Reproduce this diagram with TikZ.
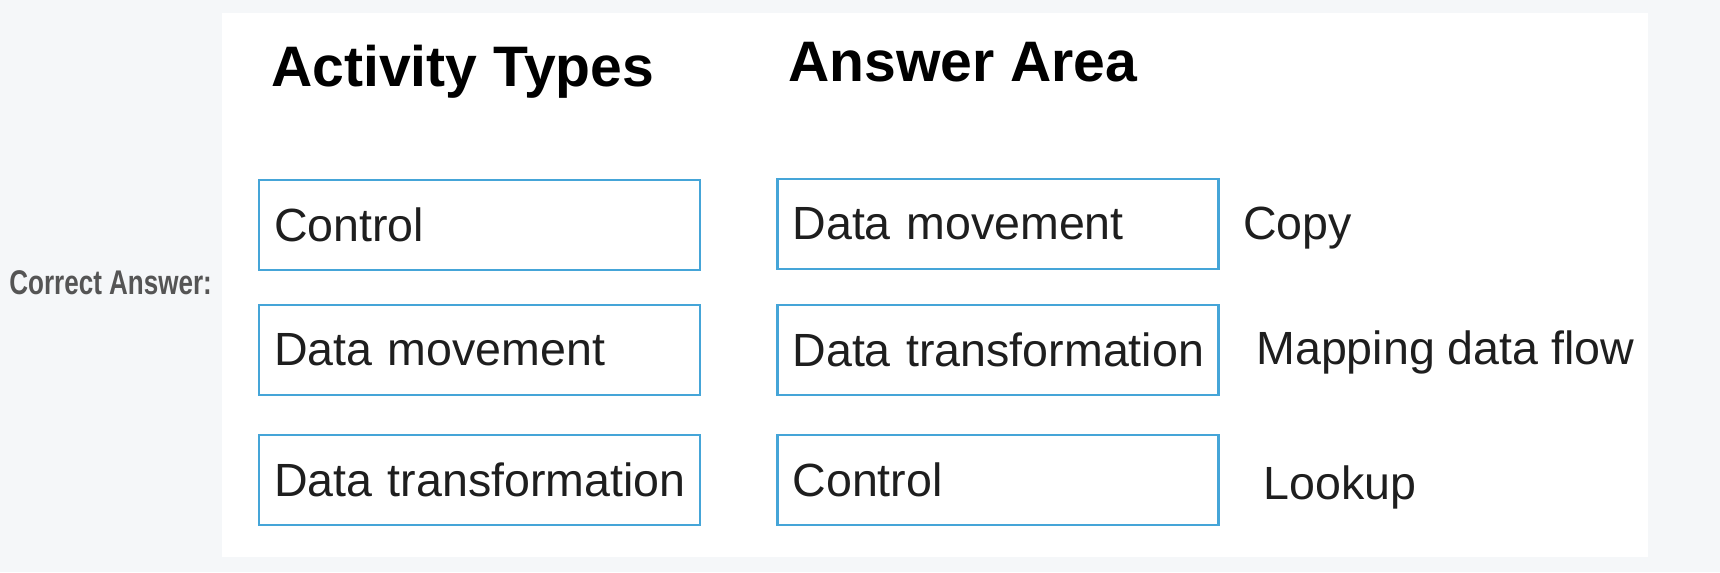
\documentclass[tikz,border=0pt]{standalone}
\usepackage{fontspec}
\setmainfont{Liberation Sans}
\usepackage{graphicx}
\definecolor{pagegray}{HTML}{F5F7F9}
\definecolor{boxblue}{HTML}{45A5D8}
\definecolor{inkgray}{HTML}{1E1E1E}
\definecolor{labelgray}{HTML}{555555}
\tikzset{
  heading/.style={anchor=base west, inner sep=0pt, font=\bfseries\fontsize{32.5}{36}\selectfont},
  choice/.style={draw=boxblue, line width=1.6pt, minimum height=1.8cm, text width=8.22cm,
    inner xsep=0.3cm, align=left, text=inkgray, font=\fontsize{26.5}{30}\selectfont,
    execute at begin node={\hbox to 8.22cm\bgroup}, execute at end node={\hss\egroup}},
  activity/.style={anchor=base west, inner sep=0pt, text=inkgray, font=\fontsize{26.5}{30}\selectfont}
}
\begin{document}
\begin{tikzpicture}[x=0.02cm,y=-0.02cm]
        \fill[pagegray] (0,0) rectangle (1720,572);
        \fill[white] (222,13) rectangle (1648,557);
        \node[anchor=base west, inner sep=0pt, text=labelgray, font=\bfseries\fontsize{19.5}{22}\selectfont] (correct) at (9,294) {\scalebox{0.76}[1]{Correct Answer:}};
        \node[heading] (acttitle) at (271,86) {Activity Types};
        \node[heading] (anstitle) at (788,81) {Answer Area};
        % activity types
        \node[choice] (typectrl) at (479.5,225) {Control};
        \node[choice] (typemove) at (479.5,350) {Data movement};
        \node[choice] (typetrans) at (479.5,480) {Data transformation};
        % answer area
        \node[choice] (ansmove) at (998,224) {Data movement};
        \node[choice] (anstrans) at (998,350) {Data transformation};
        \node[choice] (ansctrl) at (998,480) {Control};
        \node[activity] (copy) at (1243,239) {Copy};
        \node[activity] (mapflow) at (1256,364) {Mapping data flow};
        \node[activity] (lookup) at (1263,499) {Lookup};
    \end{tikzpicture}
\end{document}
